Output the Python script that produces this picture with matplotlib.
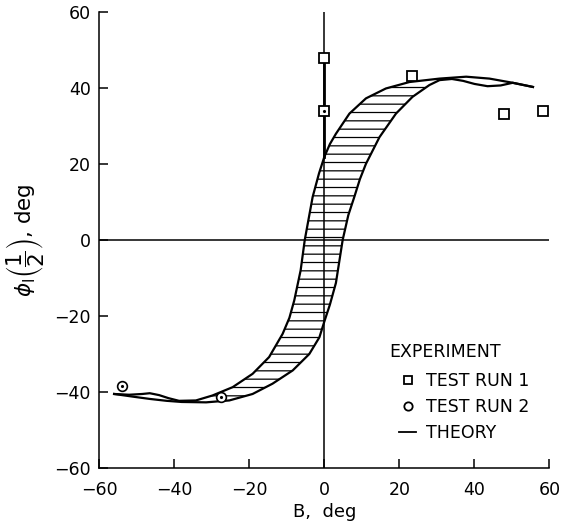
import numpy as np
import matplotlib
matplotlib.use("Agg")
import matplotlib.pyplot as plt
from matplotlib.lines import Line2D

# theory band, left boundary (B, phi)
left_b = [-56, -52, -48.5, -46.5, -44, -41.5, -38.7, -34.2, -29.8, -24.4, -19.1, -14.7, -11.1, -9.3,
          -8.0, -6.3, -5.2, -3.1, -1.4, 0.0, 1.5, 3.1, 6.7, 11.1, 16.4, 22.7, 30.7, 37.8, 44.0, 50.2, 55.6]
left_phi = [-40.5, -40.7, -40.5, -40.3, -40.8, -41.6, -42.3, -42.2, -40.9, -38.7, -35.2, -30.8, -24.7, -20.5,
            -15.9, -8.0, 0.0, 11.3, 17.5, 21.8, 25.2, 27.9, 33.2, 37.2, 39.8, 41.5, 42.4, 42.9, 42.4, 41.3, 40.2]

# theory band, right boundary
right_b = [-56, -51, -46.5, -42, -38.0, -31.5, -25.3, -19.1, -13.8, -8.4, -4.0, -1.3, 0.0, 1.5, 3.1,
           4.9, 6.4, 8.0, 9.5, 11.1, 14.7, 19.1, 23.5, 28.0, 30.7, 34, 37.0, 40, 43.5, 47.0, 50.2, 55.6]
right_phi = [-40.5, -41.2, -41.8, -42.3, -42.6, -42.7, -42.2, -40.5, -37.8, -34.3, -30.0, -25.6, -21.5, -17.0, -11.3,
             0.0, 6.5, 11.3, 16.0, 20.0, 27.0, 33.2, 37.6, 40.7, 42.0, 42.3, 41.8, 41.0, 40.4, 40.6, 41.3, 40.2]

# experiment
run1_b = [0, 23.4, 48.0, 58.4]
run1_phi = [47.7, 43.0, 33.2, 33.8]
run1_dot_b = [0]
run1_dot_phi = [34.0]
run2_b = [-53.9, -27.5]
run2_phi = [-38.3, -41.2]

plt.rcParams["font.family"] = "DejaVu Sans"
plt.rcParams["mathtext.fontset"] = "dejavusans"
plt.rcParams["hatch.linewidth"] = 0.9

fig = plt.figure(figsize=(5.63, 5.29), dpi=100)
ax = fig.add_axes([0.176, 0.115, 0.8, 0.863])

lb, lp = np.array(left_b), np.array(left_phi)
rb, rp = np.array(right_b), np.array(right_phi)

# hatched region between the two theory curves
ml = (lb > -36) & (lb < 32)
mr = (rb > -33) & (rb < 32)
poly_x = np.concatenate([lb[ml], rb[mr][::-1]])
poly_y = np.concatenate([lp[ml], rp[mr][::-1]])
ax.fill(poly_x, poly_y, facecolor="none", edgecolor="black", hatch="--", linewidth=0)

ax.plot(lb, lp, color="black", lw=1.6, solid_joinstyle="round")
ax.plot(rb, rp, color="black", lw=1.6, solid_joinstyle="round")

ax.axhline(0, color="black", lw=1.1)
ax.axvline(0, color="black", lw=1.1)
# heavier part of the zero line between the curve and the top test point
ax.plot([0, 0], [np.interp(0, lb, lp), max(run1_phi)], color="black", lw=2.0)

ax.plot(run1_b, run1_phi, ls="none", marker="s", ms=6.5, mfc="white", mec="black", mew=1.3)
ax.plot(run1_dot_b, run1_dot_phi, ls="none", marker="s", ms=6.5, mfc="white", mec="black", mew=1.3)
ax.plot(run1_dot_b, run1_dot_phi, ls="none", marker=".", ms=2.5, color="black")
ax.plot(run2_b, run2_phi, ls="none", marker="o", ms=7, mfc="white", mec="black", mew=1.2)
ax.plot(run2_b, run2_phi, ls="none", marker=".", ms=2.5, color="black")

ax.set_xlim(-60, 60)
ax.set_ylim(-60, 60)
ax.set_xticks(np.arange(-60, 61, 20))
ax.set_yticks(np.arange(-60, 61, 20))
ax.spines["top"].set_visible(False)
ax.spines["right"].set_visible(False)
ax.spines["left"].set_linewidth(1.1)
ax.spines["bottom"].set_linewidth(1.1)
ax.tick_params(axis="both", direction="in", length=6.5, width=1.1, labelsize=12.5, colors="black")
ax.tick_params(axis="x", pad=9)
ax.tick_params(axis="y", pad=6)

ax.set_xlabel("B,  deg", fontsize=13, labelpad=3)
ax.set_ylabel(r"$\phi_{\mathsf{I}}\left(\dfrac{1}{2}\right)$, deg", fontsize=15.5, labelpad=5)

ax.text(0.644, 0.255, "EXPERIMENT", transform=ax.transAxes, fontsize=12.5, va="center", ha="left")
handles = [
    Line2D([], [], ls="none", marker="s", ms=6, mfc="white", mec="black", mew=1.3),
    Line2D([], [], ls="none", marker="o", ms=6, mfc="white", mec="black", mew=1.3),
    Line2D([], [], color="black", lw=1.3),
]
leg = ax.legend(handles, ["TEST RUN 1", "TEST RUN 2", "THEORY"],
                frameon=False, loc="upper left", bbox_to_anchor=(0.658, 0.218),
                fontsize=12.5, handlelength=1.0,
                handletextpad=0.55, labelspacing=0.45,
                borderaxespad=0, borderpad=0.2)

fig.savefig("out.png", dpi=100)
